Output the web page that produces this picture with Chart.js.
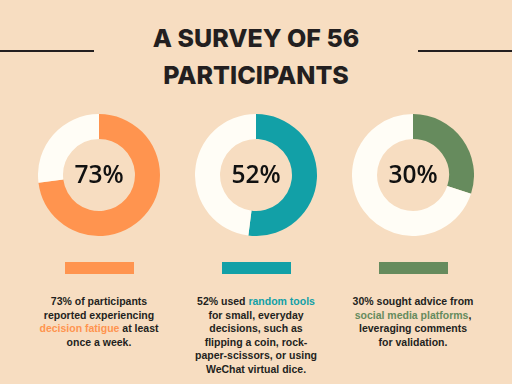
<!DOCTYPE html>
<html>
<head>
<meta charset="utf-8">
<script src="https://cdn.jsdelivr.net/npm/chart.js@4"></script>
<style>
  html, body { margin: 0; padding: 0; }
  body { width: 512px; height: 384px; background: #f7ddc1; position: relative; overflow: hidden;
         font-family: "Liberation Sans", sans-serif; color: #231f20; }
  .rule { position: absolute; top: 50px; height: 2px; background: #231f20; width: 94px; }
  .title { position: absolute; left: 0; width: 512px; top: 20px; text-align: center;
           font-family: Inter, sans-serif; font-weight: 800; font-size: 25px; line-height: 37px; }
  .ring { position: absolute; top: 114px; }
  .bar { position: absolute; top: 262px; width: 69px; height: 12px; }
  .note { position: absolute; top: 295px; width: 160px; text-align: center;
          font-weight: bold; font-size: 10.5px; line-height: 13.6px; }
</style>
</head>
<body>
<div class="rule" style="left:0"></div>
<div class="rule" style="left:418px"></div>
<div class="title">A SURVEY OF 56<br>PARTICIPANTS</div>

<canvas id="ring0" class="ring" width="122" height="122" style="left:38px"></canvas>
<canvas id="ring1" class="ring" width="122" height="122" style="left:195px"></canvas>
<canvas id="ring2" class="ring" width="122" height="122" style="left:352px"></canvas>

<div id="bars"></div>
<div id="notes"></div>

<script>
// survey results
const topics = ['decision fatigue', 'random tools', 'social media platforms'];
const percents = [73, 52, 30];
const colours = ['#ff944f', '#12a0a7', '#668b5d'];
const notesBefore = ['73% of participants<br>reported experiencing<br>', '52% used ', '30% sought advice from<br>'];
const notesAfter = [' at least<br>once a week.', '<br>for small, everyday<br>decisions, such as<br>flipping a coin, rock-<br>paper-scissors, or using<br>WeChat virtual dice.', ',<br>leveraging comments<br>for validation.'];

const centres = [99, 256, 413];
const barsEl = document.getElementById('bars');
const notesEl = document.getElementById('notes');

topics.forEach((topic, i) => {
  const bar = document.createElement('div');
  bar.className = 'bar';
  bar.style.left = (centres[i] - 34.5) + 'px';
  bar.style.background = colours[i];
  barsEl.appendChild(bar);

  const note = document.createElement('div');
  note.className = 'note';
  note.style.left = (centres[i] - 80) + 'px';
  note.innerHTML = notesBefore[i] + '<span style="color:' + colours[i] + '">' + topic + '</span>' + notesAfter[i];
  notesEl.appendChild(note);
});

// draw the percentage in the hole of each ring
const centreLabel = {
  id: 'centreLabel',
  afterDraw(chart) {
    const ctx = chart.ctx;
    const meta = chart.getDatasetMeta(0).data[0];
    ctx.save();
    ctx.fillStyle = '#111';
    ctx.font = '600 24.5px "Open Sans", sans-serif';
    ctx.textAlign = 'center';
    ctx.textBaseline = 'middle';
    ctx.fillText(chart.data.datasets[0].data[0] + '%', meta.x, meta.y + 1);
    ctx.restore();
  }
};

percents.forEach((p, i) => {
  new Chart(document.getElementById('ring' + i), {
    type: 'doughnut',
    data: {
      labels: [topics[i], 'other'],
      datasets: [{
        data: [p, 100 - p],
        backgroundColor: [colours[i], '#fffdf6'],
        borderWidth: 0
      }]
    },
    options: {
      responsive: false,
      animation: false,
      cutout: '59%',
      plugins: { legend: { display: false }, tooltip: { enabled: false } }
    },
    plugins: [centreLabel]
  });
});
</script>
</body>
</html>
